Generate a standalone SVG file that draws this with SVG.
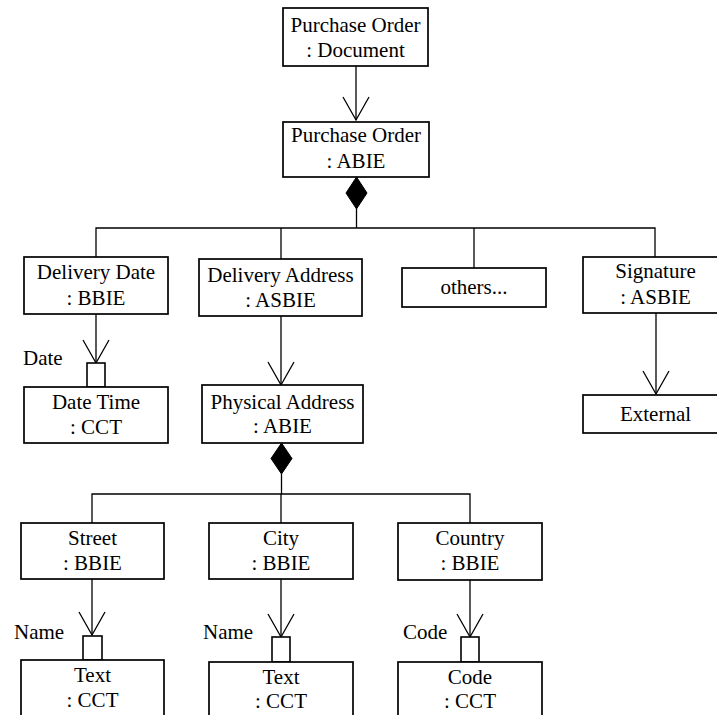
<svg xmlns="http://www.w3.org/2000/svg" width="717" height="715" viewBox="0 0 717 715">
<style>
.box{fill:#fff;stroke:#000;stroke-width:1.7}
.port{fill:#fff;stroke:#000;stroke-width:1.6}
.ln{fill:none;stroke:#000;stroke-width:1.3}
.arr{fill:none;stroke:#000;stroke-width:1.3;marker-end:url(#open)}
.dia{fill:#000;stroke:#000;stroke-width:1}
text{font-family:"Liberation Serif","Times New Roman",serif;font-size:21px;fill:#000}
.c{text-anchor:middle}
</style>
<defs>
<marker id="open" markerUnits="userSpaceOnUse" orient="auto" refX="0" refY="0" markerWidth="30" markerHeight="30" viewBox="-25 -15 30 30" overflow="visible">
<path d="M-23,-13 L0,0 L-23,13" fill="none" stroke="#000" stroke-width="1.3"/>
</marker>
</defs>
<rect width="717" height="715" fill="#fff"/>
<g id="connectors">
<line class="arr" x1="356" y1="66" x2="356" y2="120"/>
<polygon class="dia" points="356.5,177 367,193 356.5,209 346,193"/>
<line class="ln" x1="356.5" y1="209" x2="356.5" y2="228"/>
<polyline class="ln" points="96,257 96,228 655,228 655,257"/>
<line class="ln" x1="281" y1="228" x2="281" y2="259"/>
<line class="ln" x1="474" y1="228" x2="474" y2="268"/>
<line class="arr" x1="96" y1="314" x2="96" y2="363"/>
<line class="arr" x1="281" y1="316" x2="281" y2="385"/>
<line class="arr" x1="656" y1="313" x2="656" y2="394"/>
<polygon class="dia" points="281.5,443 292,458.5 281.5,474 271,458.5"/>
<line class="ln" x1="281.5" y1="474" x2="281.5" y2="494"/>
<polyline class="ln" points="92,523 92,494 470,494 470,523"/>
<line class="ln" x1="281" y1="494" x2="281" y2="523"/>
<line class="arr" x1="92" y1="579" x2="92" y2="635"/>
<line class="arr" x1="281" y1="579" x2="281" y2="637"/>
<line class="arr" x1="470" y1="580" x2="470" y2="637"/>
<rect class="port" x="87" y="363" width="18" height="24"/>
<rect class="port" x="83" y="636" width="19" height="24"/>
<rect class="port" x="272" y="637" width="18" height="25"/>
<rect class="port" x="461" y="637" width="18" height="25"/>
<text x="23" y="365">Date</text>
<text x="14" y="639">Name</text>
<text x="203" y="639">Name</text>
<text x="403" y="639">Code</text>
</g>
<g id="po-document">
<rect class="box" x="283" y="8" width="145" height="58"/>
<text class="c" x="355.5" y="32">Purchase Order</text>
<text class="c" x="355.5" y="57">: Document</text>
</g>
<g id="po-abie">
<rect class="box" x="283" y="122" width="146" height="55"/>
<text class="c" x="356" y="142">Purchase Order</text>
<text class="c" x="356" y="168">: ABIE</text>
</g>
<g id="delivery-date">
<rect class="box" x="24" y="257" width="144" height="57"/>
<text class="c" x="96" y="279">Delivery Date</text>
<text class="c" x="96" y="305">: BBIE</text>
</g>
<g id="delivery-address">
<rect class="box" x="199" y="259" width="163" height="57"/>
<text class="c" x="280.5" y="282">Delivery Address</text>
<text class="c" x="280.5" y="307">: ASBIE</text>
</g>
<g id="others">
<rect class="box" x="402" y="268" width="144" height="39"/>
<text class="c" x="474" y="294">others...</text>
</g>
<g id="signature">
<rect class="box" x="583" y="257" width="145" height="56"/>
<text class="c" x="655.5" y="278">Signature</text>
<text class="c" x="655.5" y="304">: ASBIE</text>
</g>
<g id="external">
<rect class="box" x="583" y="395" width="145" height="38"/>
<text class="c" x="655.5" y="421">External</text>
</g>
<g id="date-time">
<rect class="box" x="24" y="387" width="144" height="56"/>
<text class="c" x="96" y="409">Date Time</text>
<text class="c" x="96" y="434">: CCT</text>
</g>
<g id="physical-address">
<rect class="box" x="202" y="385" width="161" height="58"/>
<text class="c" x="282.5" y="409">Physical Address</text>
<text class="c" x="282.5" y="433">: ABIE</text>
</g>
<g id="street">
<rect class="box" x="21" y="523" width="143" height="56"/>
<text class="c" x="92.5" y="545">Street</text>
<text class="c" x="92.5" y="570">: BBIE</text>
</g>
<g id="city">
<rect class="box" x="209" y="523" width="144" height="56"/>
<text class="c" x="281" y="545">City</text>
<text class="c" x="281" y="570">: BBIE</text>
</g>
<g id="country">
<rect class="box" x="398" y="523" width="144" height="57"/>
<text class="c" x="470" y="545">Country</text>
<text class="c" x="470" y="570">: BBIE</text>
</g>
<g id="street-text">
<rect class="box" x="21" y="660" width="143" height="70"/>
<text class="c" x="92.5" y="682">Text</text>
<text class="c" x="92.5" y="707">: CCT</text>
</g>
<g id="city-text">
<rect class="box" x="209" y="662" width="144" height="70"/>
<text class="c" x="281" y="684">Text</text>
<text class="c" x="281" y="708">: CCT</text>
</g>
<g id="country-code">
<rect class="box" x="398" y="662" width="144" height="70"/>
<text class="c" x="470" y="684">Code</text>
<text class="c" x="470" y="708">: CCT</text>
</g>
</svg>
